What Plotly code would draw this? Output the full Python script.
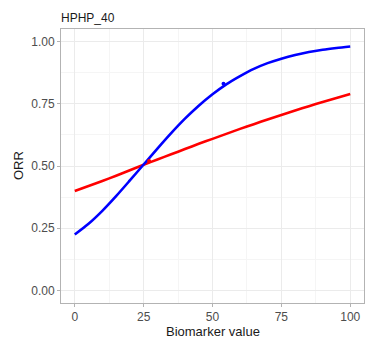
import plotly.graph_objects as go

biomarker = [0, 5, 10, 15, 20, 25, 30, 35, 40, 45, 50, 55, 60, 65, 70, 75, 80, 85, 90, 95, 100]
orr_blue = [0.225, 0.268, 0.32, 0.379, 0.442, 0.506, 0.57, 0.632, 0.69, 0.742, 0.788, 0.828, 0.861, 0.89,
            0.913, 0.931, 0.946, 0.958, 0.967, 0.974, 0.98]
orr_red = [0.40, 0.42, 0.44, 0.461, 0.483, 0.505, 0.526, 0.547, 0.568, 0.589, 0.609, 0.629, 0.649, 0.668,
           0.687, 0.705, 0.723, 0.74, 0.757, 0.773, 0.789]
pt_blue_x = [54]
pt_blue_y = [0.83]
pt_red_x = [27]
pt_red_y = [0.52]
x_ticks = [0, 25, 50, 75, 100]
y_ticks = [0, 0.25, 0.5, 0.75, 1.0]

FONT = "Liberation Sans, Arial, sans-serif"

fig = go.Figure()
fig.add_trace(go.Scatter(x=biomarker, y=orr_red, mode="lines",
                         line=dict(color="#FF0000", width=2.6, shape="spline", smoothing=0.8), showlegend=False))
fig.add_trace(go.Scatter(x=biomarker, y=orr_blue, mode="lines",
                         line=dict(color="#0000FF", width=2.6, shape="spline", smoothing=0.8), showlegend=False))
fig.add_trace(go.Scatter(x=pt_red_x, y=pt_red_y, mode="markers", marker=dict(color="#FF0000", size=4), showlegend=False))
fig.add_trace(go.Scatter(x=pt_blue_x, y=pt_blue_y, mode="markers", marker=dict(color="#0000FF", size=4), showlegend=False))

axis_common = dict(
    showline=True, linecolor="#B3B3B3", linewidth=1, mirror=True,
    showgrid=True, gridcolor="#EBEBEB", gridwidth=1,
    ticks="outside", ticklen=3, tickcolor="#B3B3B3", tickwidth=1,
    tickfont=dict(family=FONT, size=12, color="#4D4D4D"),
    zeroline=False, automargin=False,
)

fig.update_xaxes(range=[-5, 105], tickvals=x_ticks, ticktext=[str(v) for v in x_ticks],
                 minor=dict(showgrid=True, gridcolor="#F5F5F5", gridwidth=1, tickvals=[12.5, 37.5, 62.5, 87.5]),
                 **axis_common)
fig.update_yaxes(range=[-0.05, 1.05], tickvals=y_ticks, ticktext=["%.2f" % v for v in y_ticks],
                 minor=dict(showgrid=True, gridcolor="#F5F5F5", gridwidth=1, tickvals=[0.125, 0.375, 0.625, 0.875]),
                 **axis_common)

fig.update_layout(
    width=368, height=340,
    margin=dict(l=61, r=4, t=29, b=37),
    plot_bgcolor="white", paper_bgcolor="white",
    title=dict(text="HPHP_40", x=61/368, xanchor="left", y=1-18/340, yanchor="middle",
               font=dict(family=FONT, size=12, color="#1A1A1A")),
    annotations=[
        dict(text="Biomarker value", xref="paper", yref="paper", x=0.5, y=1 - (331 - 29) / 274,
             xanchor="center", yanchor="middle", showarrow=False,
             font=dict(family=FONT, size=13, color="#1A1A1A")),
        dict(text="ORR", xref="paper", yref="paper", x=-(61 - 18) / 303, y=0.5, textangle=-90,
             xanchor="center", yanchor="middle", showarrow=False,
             font=dict(family=FONT, size=13, color="#1A1A1A")),
    ],
)

fig.write_html("out.html", config={"displayModeBar": False},
               post_script="document.body.style.margin='0';document.body.style.padding='0';")
